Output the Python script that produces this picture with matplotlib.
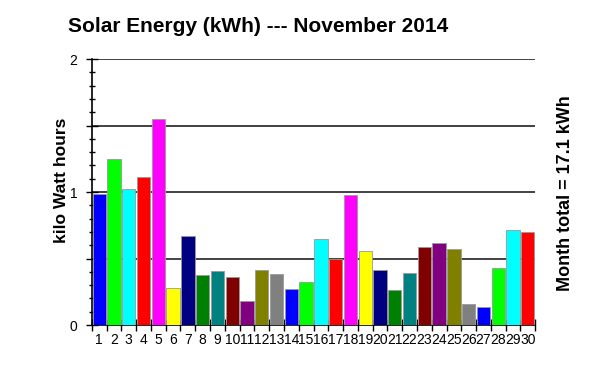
import matplotlib
matplotlib.use("Agg")
import matplotlib.pyplot as plt
from matplotlib.ticker import MultipleLocator, FixedLocator, NullFormatter

days = list(range(1, 31))
kwh = [0.985, 1.246, 1.025, 1.113, 1.549, 0.278, 0.669, 0.376, 0.408, 0.358,
       0.178, 0.415, 0.383, 0.273, 0.321, 0.647, 0.499, 0.977, 0.554, 0.416,
       0.261, 0.388, 0.584, 0.617, 0.571, 0.160, 0.135, 0.429, 0.714, 0.702]
palette = ['#0000ff', '#00ff00', '#00ffff', '#ff0000', '#ff00ff', '#ffff00', '#000080',
           '#008000', '#008080', '#800000', '#800080', '#808000', '#808080']
title = "Solar Energy (kWh) --- November 2014"
ylabel = "kilo Watt hours"
total_label = "Month total = 17.1 kWh"

plt.rcParams['font.family'] = ['Liberation Sans', 'DejaVu Sans']

fig = plt.figure(figsize=(6, 3.67), dpi=100)
ax = fig.add_axes([0.153, 0.1144, 0.739, 0.7246])

colors = [palette[i % len(palette)] for i in range(len(days))]
ax.bar(days, kwh, width=0.9, color=colors, edgecolor='#999999', linewidth=0.6, zorder=3)

ax.set_xlim(0.5, 30.5)
ax.set_ylim(0, 2)

# gridlines every 0.5
for y in [0.5, 1.0, 1.5, 2.0]:
    ax.axhline(y, color='#333333', linewidth=1.3, zorder=1)

# y axis: ticks every 0.1, longer every 0.5, labels only on integers
ax.yaxis.set_minor_locator(MultipleLocator(0.1))
ax.set_yticks([0, 0.5, 1, 1.5, 2])
ax.set_yticklabels(['0', '', '1', '', '2'], fontsize=10)
ax.tick_params(axis='y', which='major', direction='inout', length=9, width=1, pad=6)
ax.tick_params(axis='y', which='minor', direction='inout', length=5, width=1)

# x axis: ticks at bar edges, labels at bar centres
ax.xaxis.set_major_locator(FixedLocator([d + 0.5 for d in [0] + days]))
ax.xaxis.set_major_formatter(NullFormatter())
ax.xaxis.set_minor_locator(FixedLocator(days))
ax.set_xticklabels([str(d) for d in days], minor=True, fontsize=10)
ax.tick_params(axis='x', which='major', direction='inout', length=8, width=1)
ax.tick_params(axis='x', which='minor', length=0, pad=6)

for s in ['top', 'right']:
    ax.spines[s].set_visible(False)
ax.spines['left'].set_linewidth(1.2)
ax.spines['bottom'].set_linewidth(1.2)

fig.text(0.43, 0.928, title, ha='center', va='center', fontsize=15, fontweight='bold')
fig.text(0.103, 0.508, ylabel, ha='center', va='center', rotation=90, fontsize=12.5, fontweight='bold')
fig.text(0.942, 0.474, total_label, ha='center', va='center', rotation=90, fontsize=13, fontweight='bold')

fig.savefig("out.png", dpi=100)
